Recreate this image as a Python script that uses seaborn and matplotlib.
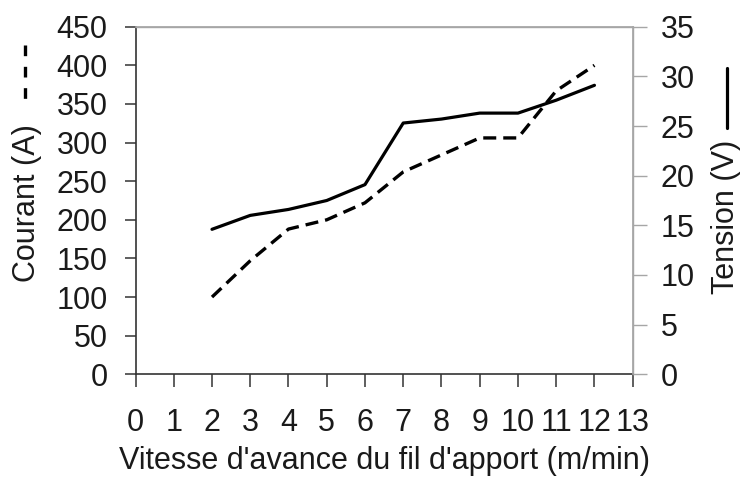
import matplotlib
matplotlib.use("Agg")
import matplotlib.pyplot as plt
import numpy as np
import pandas as pd
import seaborn as sns
from matplotlib.lines import Line2D

# ---- data ----
vitesse = [2, 3, 4, 5, 6, 7, 8, 9, 10, 11, 12]
courant = [100, 147, 188, 200, 222, 262, 284, 306, 306, 367, 400]
tension = [14.6, 16.0, 16.6, 17.5, 19.1, 25.3, 25.7, 26.3, 26.3, 27.6, 29.1]
x_ticks = list(range(0, 14))
courant_ticks = list(range(0, 451, 50))
tension_ticks = list(range(0, 36, 5))

x_label = "Vitesse d'avance du fil d'apport (m/min)"
left_label = "Courant (A)"
right_label = "Tension (V)"

df = pd.DataFrame({"vitesse": vitesse, "courant": courant, "tension": tension})

sns.set_theme(style="ticks")
plt.rcParams['font.family'] = ['Liberation Sans', 'DejaVu Sans']

W, H = 743, 478
fig = plt.figure(figsize=(W / 100, H / 100), dpi=100)
fig.patch.set_facecolor("white")

left_px, right_px, top_px, bot_px = 135.5, 632.7, 26.7, 374.3
ax = fig.add_axes([left_px / W, 1 - bot_px / H, (right_px - left_px) / W, (bot_px - top_px) / H])
ax2 = ax.twinx()

sns.lineplot(data=df, x="vitesse", y="courant", ax=ax, color="black",
             linewidth=2.4, linestyle=(0, (3.9, 2.1)), legend=False)
sns.lineplot(data=df, x="vitesse", y="tension", ax=ax2, color="black",
             linewidth=2.3, legend=False)

ax.set_xlim(0, 13)
ax.set_ylim(0, 450)
ax2.set_ylim(0, 35)
ax.set_xticks(x_ticks)
ax.set_yticks(courant_ticks)
ax2.set_yticks(tension_ticks)

fs = 22
txt_col = "#1a1a1a"
dark = "#333333"
gray = "#a6a6a6"

ax.tick_params(axis="x", direction="out", length=9, width=1.1, color=dark,
               labelsize=fs, labelcolor=txt_col, pad=15)
ax.tick_params(axis="y", direction="out", length=8, width=1.1, color=dark,
               labelsize=fs, labelcolor=txt_col, pad=12)
ax2.tick_params(axis="y", direction="out", length=10, width=1.0, color=gray,
                labelsize=fs, labelcolor=txt_col, pad=10)

for a in (ax, ax2):
    a.set_xlabel("")
    a.set_ylabel("")
    a.grid(False)

ax.spines["left"].set_color(dark)
ax.spines["bottom"].set_color(dark)
ax.spines["left"].set_linewidth(1.2)
ax.spines["bottom"].set_linewidth(1.2)
for s in ("top", "right"):
    ax.spines[s].set_color(gray)
    ax.spines[s].set_linewidth(1.0)
ax2.spines["right"].set_color(gray)
ax2.spines["top"].set_color(gray)
ax2.spines["left"].set_visible(False)
ax2.spines["bottom"].set_visible(False)

ax.set_xlabel(x_label, fontsize=fs, color=txt_col, labelpad=6)

fig.text(27.5 / W, 1 - 203 / H, left_label, rotation=90, fontsize=fs,
         color=txt_col, ha="center", va="center")
fig.text(726 / W, 1 - 217 / H, right_label, rotation=90, fontsize=fs,
         color=txt_col, ha="center", va="center")

# keys beside the axis titles
fig.add_artist(Line2D([25 / W, 25 / W], [1 - 45 / H, 1 - 105 / H], color="black",
                      linewidth=2.4, linestyle=(0, (3.2, 3.2)), transform=fig.transFigure))
fig.add_artist(Line2D([726.7 / W, 726.7 / W], [1 - 68 / H, 1 - 128 / H], color="black",
                      linewidth=2.3, transform=fig.transFigure))

fig.savefig("out.png", dpi=100, facecolor="white")
